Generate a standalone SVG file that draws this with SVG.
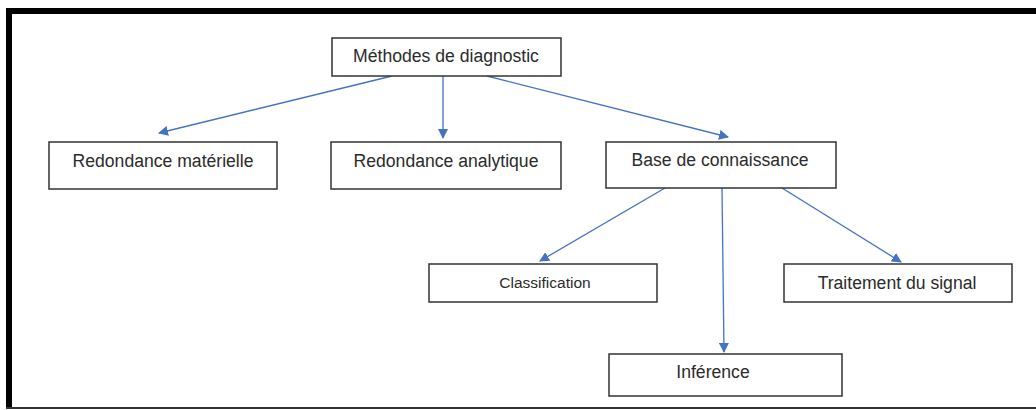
<svg xmlns="http://www.w3.org/2000/svg" width="1036" height="410" viewBox="0 0 1036 410">
  <defs>
    <marker id="arrow" viewBox="0 0 10 10" refX="9" refY="5" markerWidth="10" markerHeight="10" markerUnits="userSpaceOnUse" orient="auto">
      <path d="M0,0 L10,5 L0,10 z" fill="#4472C4"/>
    </marker>
    <style>
      .box { fill: #ffffff; stroke: #333333; stroke-width: 1.5; }
      .lbl { font-family: "Liberation Sans", Arial, sans-serif; font-size: 17.6px; fill: #2b2b2b; text-anchor: middle; }
      .small { font-size: 15.5px; }
      .link { stroke: #4472C4; stroke-width: 1.3; fill: none; marker-end: url(#arrow); }
    </style>
  </defs>

  <rect width="1036" height="410" fill="#ffffff"/>

  <!-- outer frame: heavy top and left edges, thin bottom edge -->
  <g id="frame">
    <rect x="6" y="8" width="1030" height="6" fill="#000000"/>
    <rect x="6" y="8" width="6" height="401" fill="#000000"/>
    <rect x="6" y="407" width="1030" height="2" fill="#333333"/>
  </g>

  <g id="connectors">
    <line class="link" x1="392" y1="76" x2="159" y2="133"/>
    <line class="link" x1="443" y1="76" x2="443" y2="138"/>
    <line class="link" x1="487" y1="76" x2="728" y2="137"/>
    <line class="link" x1="665" y1="188" x2="540" y2="261"/>
    <line class="link" x1="722" y1="188" x2="724" y2="352"/>
    <line class="link" x1="782" y1="188" x2="901" y2="262"/>
  </g>

  <g id="methodes">
    <rect class="box" x="332" y="38" width="229" height="38"/>
    <text class="lbl" x="446" y="62">Méthodes de diagnostic</text>
  </g>
  <g id="redondance-materielle">
    <rect class="box" x="49" y="142" width="228" height="47"/>
    <text class="lbl" x="163" y="167">Redondance matérielle</text>
  </g>
  <g id="redondance-analytique">
    <rect class="box" x="331" y="142" width="230" height="47"/>
    <text class="lbl" x="446" y="167">Redondance analytique</text>
  </g>
  <g id="base-connaissance">
    <rect class="box" x="606" y="142" width="230" height="46"/>
    <text class="lbl" x="720" y="166">Base de connaissance</text>
  </g>
  <g id="classification">
    <rect class="box" x="429" y="264" width="228" height="38"/>
    <text class="lbl small" x="545" y="288">Classification</text>
  </g>
  <g id="traitement-signal">
    <rect class="box" x="784" y="264" width="228" height="38"/>
    <text class="lbl" x="897" y="289">Traitement du signal</text>
  </g>
  <g id="inference">
    <rect class="box" x="609" y="354" width="233" height="42"/>
    <text class="lbl" x="713" y="378">Inférence</text>
  </g>
</svg>
